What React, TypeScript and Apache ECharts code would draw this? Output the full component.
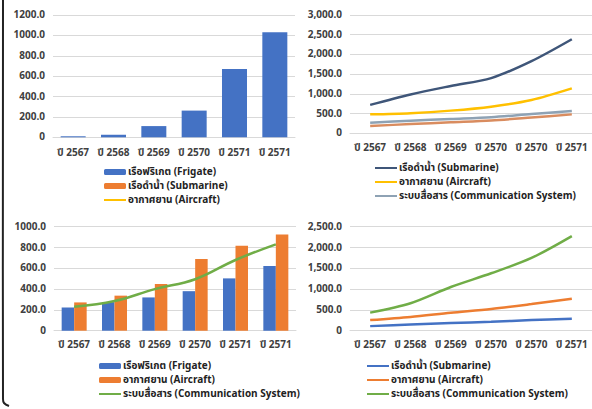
import React, { useEffect, useRef } from "react";
import * as echarts from "echarts";

const leftCategories = ["ปี 2567", "ปี 2568", "ปี 2569", "ปี 2570", "ปี 2571", "ปี 2571"];
const rightCategories = ["ปี 2567", "ปี 2568", "ปี 2569", "ปี 2570", "ปี 2570", "ปี 2571"];

const NAME_FRIGATE = "เรือฟริเกต (Frigate)";
const NAME_SUB = "เรือดำน้ำ (Submarine)";
const NAME_AIR = "อากาศยาน (Aircraft)";
const NAME_COMM = "ระบบสื่อสาร (Communication System)";

// top-left
const tlFrigate = [10, 25, 110, 262, 670, 1030];
// top-right
const trSubmarine = [720, 985, 1200, 1400, 1830, 2385];
const trAircraft = [480, 510, 575, 675, 845, 1140];
const trComm = [270, 320, 365, 410, 490, 565];
const trOther = [185, 235, 280, 325, 400, 480];
// bottom-left
const blFrigate = [222, 275, 320, 380, 503, 622];
const blAircraft = [272, 337, 449, 689, 817, 926];
const blComm = [230, 285, 400, 495, 680, 830];
// bottom-right
const brSubmarine = [110, 150, 185, 215, 255, 290];
const brAircraft = [255, 330, 430, 520, 640, 770];
const brComm = [435, 660, 1050, 1380, 1750, 2275];

const FONT = "Tahoma, 'Noto Sans Thai', 'Liberation Sans', 'DejaVu Sans', sans-serif";
const BLUE = "#4472c4";
const ORANGE = "#ed7d31";
const YELLOW = "#ffc000";
const GREEN = "#70ad47";
const NAVY = "#3f5679";
const GRID = "#d9d9d9";

const fmtPlain = (v: number) => (v === 0 ? "0" : v.toFixed(1));
const fmtComma = (v: number) =>
  v === 0 ? "0" : v.toLocaleString("en-US", { minimumFractionDigits: 1, maximumFractionDigits: 1 });

function xAxis(data: string[], margin: number) {
  return {
    type: "category",
    data,
    axisLine: { lineStyle: { color: GRID } },
    axisTick: { show: false },
    axisLabel: { color: "#404040", fontSize: 10, fontWeight: "bold", fontFamily: FONT, margin, interval: 0 },
  };
}
function yAxis(max: number, interval: number, fmt: (v: number) => string) {
  return {
    type: "value",
    min: 0,
    max,
    interval,
    axisLine: { show: false },
    axisTick: { show: false },
    splitLine: { lineStyle: { color: GRID, width: 1 } },
    axisLabel: { color: "#404040", fontSize: 10, fontWeight: "bold", fontFamily: FONT, margin: 8, formatter: fmt },
  };
}
const HIDE_DOT = { color: "rgba(0,0,0,0)", borderColor: "rgba(0,0,0,0)", borderWidth: 0 };
function legend(left: number, top: number, items: { name: string; line: boolean }[]) {
  return {
    orient: "vertical",
    left,
    top,
    padding: 0,
    itemWidth: 22,
    itemHeight: 6,
    itemGap: 2,
    selectedMode: false,
    textStyle: { fontSize: 10, fontWeight: "bold", color: "#222", fontFamily: FONT, lineHeight: 12, padding: [0, 0, 0, -3] },
    data: items.map((it) => (it.line ? { name: it.name, itemStyle: HIDE_DOT } : { name: it.name })),
  };
}
function lineSeries(name: string, data: number[], color: string, smooth = 0.3) {
  return {
    type: "line",
    name,
    data,
    smooth,
    symbol: "none",
    lineStyle: { color, width: 2.5 },
    itemStyle: { color },
  };
}

const optTL = {
  animation: false,
  grid: { left: 53, right: 297, top: 15, bottom: 409 - 137.3 },
  xAxis: xAxis(leftCategories, 11),
  yAxis: yAxis(1200, 200, fmtPlain),
  legend: legend(103, 166, [
    { name: NAME_FRIGATE, line: false },
    { name: NAME_SUB, line: false },
    { name: NAME_AIR, line: true },
  ]),
  graphic: [
    {
      type: "polyline",
      shape: { points: [[3, 0], [3, 399], [4, 403], [9, 406]], smooth: 0.4 },
      style: { stroke: "#222", lineWidth: 2, fill: null },
    },
  ],
  series: [
    { type: "bar", name: NAME_FRIGATE, data: tlFrigate, stack: "a", barWidth: "62%", itemStyle: { color: BLUE } },
    { type: "bar", name: NAME_SUB, data: [], stack: "a", itemStyle: { color: ORANGE } },
    { type: "line", name: NAME_AIR, data: [], symbol: "none", lineStyle: { color: YELLOW, width: 2 }, itemStyle: { color: YELLOW } },
  ],
};

const optTR = {
  animation: false,
  grid: { left: 350, right: 0, top: 15, bottom: 409 - 133.3 },
  xAxis: xAxis(rightCategories, 10),
  yAxis: yAxis(3000, 500, fmtComma),
  legend: legend(374, 162, [
    { name: NAME_SUB, line: true },
    { name: NAME_AIR, line: true },
    { name: NAME_COMM, line: true },
  ]),
  series: [
    lineSeries(NAME_FRIGATE, trOther, "#d98c5f"),
    lineSeries(NAME_COMM, trComm, "#8ea2b4"),
    lineSeries(NAME_AIR, trAircraft, YELLOW),
    lineSeries(NAME_SUB, trSubmarine, NAVY),
  ],
};

const optBL = {
  animation: false,
  grid: { left: 54, right: 296, top: 226.7, bottom: 409 - 330.7 },
  xAxis: xAxis(leftCategories, 9),
  yAxis: yAxis(1000, 200, fmtPlain),
  legend: legend(98, 360, [
    { name: NAME_FRIGATE, line: false },
    { name: NAME_AIR, line: false },
    { name: NAME_COMM, line: true },
  ]),
  series: [
    { type: "bar", name: NAME_FRIGATE, data: blFrigate, barWidth: 12.5, barGap: "0%", itemStyle: { color: BLUE } },
    { type: "bar", name: NAME_AIR, data: blAircraft, barWidth: 12.5, barGap: "0%", itemStyle: { color: ORANGE } },
    lineSeries(NAME_COMM, blComm, GREEN, 0.4),
  ],
};

const optBR = {
  animation: false,
  grid: { left: 350, right: 0, top: 226.7, bottom: 409 - 330.7 },
  xAxis: xAxis(rightCategories, 9),
  yAxis: yAxis(2500, 500, fmtComma),
  legend: legend(366, 360, [
    { name: NAME_SUB, line: true },
    { name: NAME_AIR, line: true },
    { name: NAME_COMM, line: true },
  ]),
  series: [
    lineSeries(NAME_SUB, brSubmarine, BLUE),
    lineSeries(NAME_AIR, brAircraft, ORANGE),
    lineSeries(NAME_COMM, brComm, GREEN),
  ],
};

const options = [optTL, optTR, optBL, optBR];

function Chart({ option }: { option: any }) {
  const ref = useRef<HTMLDivElement>(null);
  useEffect(() => {
    if (!ref.current) return;
    const chart = echarts.init(ref.current, undefined, { renderer: "svg" });
    chart.setOption(option);
    return () => chart.dispose();
  }, [option]);
  return (
    <div
      ref={ref}
      style={{ position: "absolute", left: 0, top: 0, width: 592, height: 409 }}
    />
  );
}

export default function App() {
  useEffect(() => {
    document.body.style.margin = "0";
    document.body.style.background = "#fff";
  }, []);
  return (
    <div style={{ position: "relative", width: 592, height: 409, background: "#fff", overflow: "hidden" }}>
      {options.map((o, i) => (
        <Chart key={i} option={o} />
      ))}
    </div>
  );
}
